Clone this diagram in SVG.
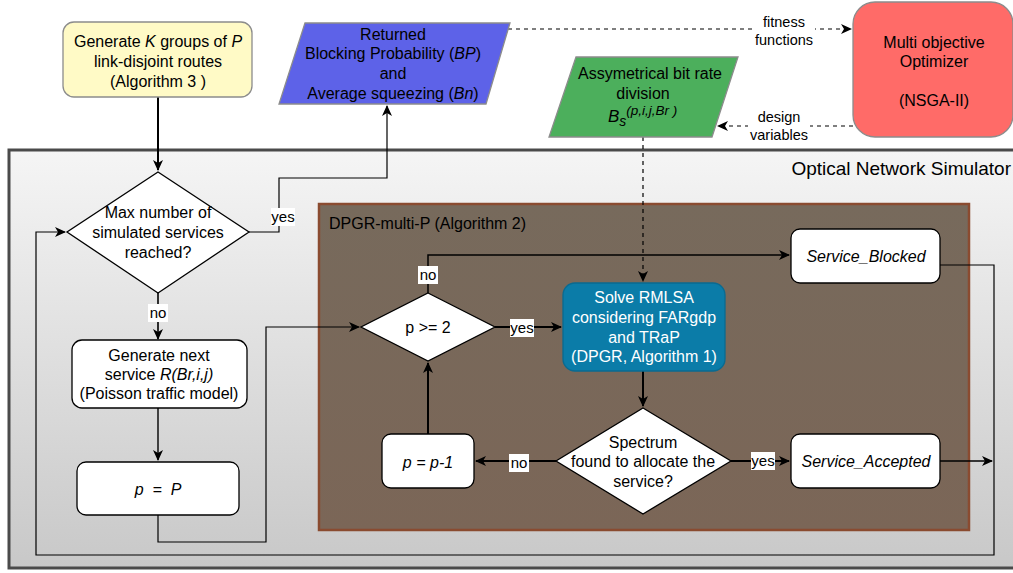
<svg xmlns="http://www.w3.org/2000/svg" width="1013" height="573" viewBox="0 0 1013 573">
<defs>
<linearGradient id="gOuter" x1="0" y1="0" x2="0" y2="1">
<stop offset="0" stop-color="#f5f5f5"/><stop offset="1" stop-color="#c8c8c8"/>
</linearGradient>
<linearGradient id="gInner" x1="0" y1="0" x2="0" y2="1">
<stop offset="0" stop-color="#776a5c"/><stop offset="1" stop-color="#7b6657"/>
</linearGradient>
<marker id="ah" markerUnits="userSpaceOnUse" markerWidth="11" markerHeight="10" refX="10" refY="5" orient="auto">
<path d="M0,0 L11,5 L0,10 L3,5 z" fill="#000"/>
</marker>
<style>
text{font-family:"Liberation Sans",Arial,sans-serif;font-size:16px;fill:#000;text-anchor:middle}
.it{font-style:italic}
.lbl{font-size:15px}
.sm{font-size:14.5px}
.w{fill:#fff}
.node{stroke:#000;stroke-width:1.3;fill:#fff}
.c{fill:none;stroke:#000;stroke-width:2}
.t{fill:none;stroke:#000;stroke-width:1.2}
.d{fill:none;stroke:#000;stroke-width:1.2;stroke-dasharray:4 4}
.bg{fill:#fff}
</style>
</defs>

<g id="simulator">
<rect x="9" y="150" width="1012" height="418" fill="url(#gOuter)" stroke="#4a4a4a" stroke-width="3"/>
<text x="1011" y="175" style="font-size:19px;text-anchor:end">Optical Network Simulator</text>
</g>

<g id="dpgr">
<rect x="319" y="204" width="650" height="326" fill="url(#gInner)" stroke="#8a4b30" stroke-width="2.5"/>
<text x="329" y="229" style="text-anchor:start">DPGR-multi-P (Algorithm 2)</text>
</g>

<g id="connectors">
<path class="c" d="M158,97 V170" marker-end="url(#ah)"/>
<path class="t" d="M249,232 H279 V178 H387 V106" marker-end="url(#ah)"/>
<path class="t" style="stroke-width:1.6" d="M158,293 V339" marker-end="url(#ah)"/>
<path class="t" style="stroke-width:1.4" d="M158,408 V460" marker-end="url(#ah)"/>
<path class="t" d="M158,515 V542 H266 V327 H359" marker-end="url(#ah)"/>
<path class="t" style="stroke-width:1.5" d="M428,293 V255 H789" marker-end="url(#ah)"/>
<path class="c" d="M495,327 H561" marker-end="url(#ah)"/>
<path class="c" d="M643,371 V406" marker-end="url(#ah)"/>
<path class="c" d="M556,461 H476" marker-end="url(#ah)"/>
<path class="c" d="M428,434 V363" marker-end="url(#ah)"/>
<path class="c" d="M731,461 H789" marker-end="url(#ah)"/>
<path class="t" style="stroke-width:1.5" d="M940,461 H992" marker-end="url(#ah)"/>
<path class="t" d="M940,265 H994 V555 H36 V232 H65" marker-end="url(#ah)"/>
<path class="d" d="M508,29 H851" marker-end="url(#ah)"/>
<path class="d" d="M853,126 H718" marker-end="url(#ah)"/>
<path class="d" d="M643,137 V281" marker-end="url(#ah)"/>

<rect class="bg" x="271" y="208" width="24" height="18"/>
<text class="lbl" x="283" y="222">yes</text>
<rect class="bg" x="148" y="304" width="20" height="18"/>
<text class="lbl" x="158" y="318">no</text>
<rect class="bg" x="418" y="266" width="20" height="18"/>
<text class="lbl" x="428" y="280">no</text>
<rect class="bg" x="510" y="319" width="24" height="18"/>
<text class="lbl" x="522" y="333">yes</text>
<rect class="bg" x="509" y="454" width="20" height="18"/>
<text class="lbl" x="519" y="468">no</text>
<rect class="bg" x="751" y="452" width="24" height="18"/>
<text class="lbl" x="763" y="466">yes</text>
<rect class="bg" x="753" y="12" width="62" height="38"/>
<text class="sm" x="784" y="27">fitness</text>
<text class="sm" x="784" y="45">functions</text>
<rect class="bg" x="748" y="107" width="62" height="38"/>
<text class="sm" x="779" y="122">design</text>
<text class="sm" x="779" y="140">variables</text>
</g>

<g id="gen_routes">
<rect x="63" y="22" width="189" height="75" rx="11" fill="#fffac6" stroke="#8c8c8c" stroke-width="1.3"/>
<text x="158" y="47">Generate <tspan class="it">K</tspan> groups of <tspan class="it">P</tspan></text>
<text x="158" y="67">link-disjoint routes</text>
<text x="158" y="87">(Algorithm 3 )</text>
</g>

<g id="returned">
<polygon points="305,23 510,23 486,104 279,104" fill="#5d62e8" stroke="#8c8c8c" stroke-width="1.3"/>
<text x="393" y="40">Returned</text>
<text x="393" y="59">Blocking Probability (<tspan class="it">BP</tspan>)</text>
<text x="393" y="79">and</text>
<text x="393" y="99">Average squeezing (<tspan class="it">Bn</tspan>)</text>
</g>

<g id="optimizer">
<rect x="853" y="2" width="160" height="135" rx="22" fill="#ff6b68" stroke="#8c8c8c" stroke-width="1.3"/>
<text x="934" y="48">Multi objective</text>
<text x="934" y="67">Optimizer</text>
<text x="934" y="106">(NSGA-II)</text>
</g>

<g id="bitrate">
<polygon points="576,57 738,57 712,137 549,137" fill="#4caf5c" stroke="#8c8c8c" stroke-width="1.3"/>
<text x="650" y="79">Assymetrical bit rate</text>
<text x="643" y="99">division</text>
<text x="608" y="122" style="text-anchor:start;font-size:17px" class="it">B<tspan dy="4" style="font-size:14px">s</tspan><tspan dy="-11" style="font-size:13.5px">(p,i,j,Br )</tspan></text>
</g>

<g id="max_decision">
<polygon class="node" points="158,172 249,232 158,293 67,232"/>
<text x="158" y="218">Max number of</text>
<text x="158" y="238">simulated services</text>
<text x="158" y="258">reached?</text>
</g>

<g id="gen_next">
<rect class="node" x="72" y="340" width="175" height="68" rx="10"/>
<text x="159" y="361">Generate next</text>
<text x="159" y="380">service <tspan class="it">R(Br,i,j)</tspan></text>
<text x="159" y="399">(Poisson traffic model)</text>
</g>

<g id="p_eq_P">
<rect class="node" x="77" y="462" width="162" height="53" rx="9"/>
<text x="158" y="495" class="it" style="white-space:pre">p  =  P</text>
</g>

<g id="p_ge_2">
<polygon class="node" points="428,293 495,327 428,361 361,327"/>
<text x="428" y="333">p &gt;= 2</text>
</g>

<g id="solve">
<rect x="563" y="283" width="162" height="88" rx="12" fill="#0b7ca8" stroke="#0a6a90" stroke-width="1.3"/>
<text x="644" y="303" class="w">Solve RMLSA</text>
<text x="644" y="323" class="w">considering FARgdp</text>
<text x="644" y="343" class="w">and TRaP</text>
<text x="644" y="362" class="w">(DPGR, Algorithm 1)</text>
</g>

<g id="blocked">
<rect class="node" x="791" y="229" width="149" height="54" rx="9"/>
<text x="866" y="262" class="it">Service_Blocked</text>
</g>

<g id="spectrum">
<polygon class="node" points="643,408 731,461 643,514 556,461"/>
<text x="643" y="448">Spectrum</text>
<text x="643" y="467">found to allocate the</text>
<text x="643" y="487">service?</text>
</g>

<g id="p_minus">
<rect class="node" x="382" y="434" width="92" height="54" rx="9"/>
<text x="428" y="468" class="it">p = p-1</text>
</g>

<g id="accepted">
<rect class="node" x="791" y="434" width="149" height="54" rx="9"/>
<text x="866" y="467" class="it">Service_Accepted</text>
</g>
</svg>
